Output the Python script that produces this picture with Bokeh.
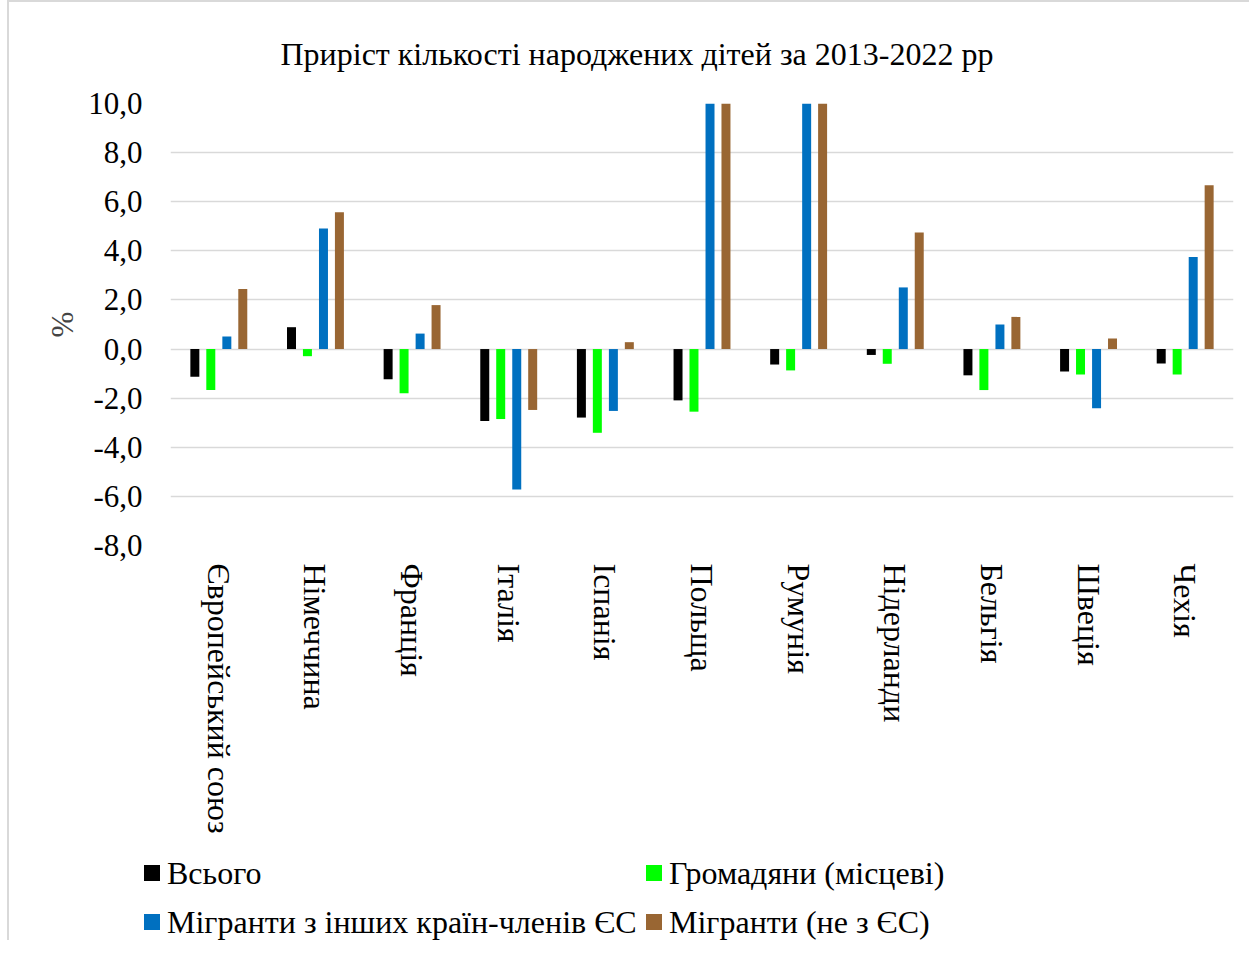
from bokeh.plotting import figure
from bokeh.models import FactorRange, FixedTicker, ColumnDataSource, Div
from bokeh.layouts import column
from bokeh.transform import dodge
from bokeh.embed import file_html
from bokeh.resources import INLINE

categories = ["Європейський союз", "Німеччина", "Франція", "Італія", "Іспанія",
              "Польща", "Румунія", "Нідерланди", "Бельгія", "Швеція", "Чехія"]
total = [-1.13, 0.89, -1.23, -2.93, -2.79, -2.09, -0.63, -0.24, -1.07, -0.91, -0.59]
citizens = [-1.67, -0.29, -1.80, -2.85, -3.41, -2.55, -0.87, -0.60, -1.67, -1.04, -1.04]
migrants_eu = [0.51, 4.91, 0.63, -5.72, -2.52, 10.0, 10.0, 2.51, 1.00, -2.41, 3.75]
migrants_non_eu = [2.45, 5.57, 1.79, -2.48, 0.28, 10.0, 10.0, 4.75, 1.31, 0.43, 6.67]
series_names = ["Всього", "Громадяни (місцеві)",
                "Мігранти з інших країн-членів ЄС", "Мігранти (не з ЄС)"]
y_ticks = [-8, -6, -4, -2, 0, 2, 4, 6, 8, 10]
y_tick_labels = ["-8,0", "-6,0", "-4,0", "-2,0", "0,0", "2,0", "4,0", "6,0", "8,0", "10,0"]
title_text = "Приріст кількості народжених дітей за 2013-2022 рр"

colors = ["#000000", "#00ff00", "#0070c0", "#996633"]
offsets = [-0.248, -0.083, 0.083, 0.248]
FONT = "Liberation Serif"
FS = "32px"
FS_TICK = "31px"

src = ColumnDataSource(dict(cat=categories, s0=total, s1=citizens, s2=migrants_eu, s3=migrants_non_eu))

p = figure(x_range=FactorRange(*categories, range_padding=0), y_range=(-8, 10),
           width=1240, height=853, output_backend="svg", toolbar_location=None,
           min_border_left=161, min_border_right=16, min_border_top=92, min_border_bottom=310)

for i, col in enumerate(["s0", "s1", "s2", "s3"]):
    p.vbar(x=dodge("cat", offsets[i], range=p.x_range), top=col, bottom=0, width=0.093,
           source=src, fill_color=colors[i], line_color=None)

p.title.text = title_text
p.title.align = "left"
p.title.offset = 110
p.title.text_font = FONT
p.title.text_font_size = FS
p.title.text_font_style = "normal"
p.title.text_color = "#000000"
p.title.standoff = 63

p.outline_line_color = None
p.xgrid.grid_line_color = None
p.ygrid.grid_line_color = "#d9d9d9"
p.ygrid.grid_line_width = 1.5

p.yaxis.ticker = FixedTicker(ticks=y_ticks)
p.yaxis.major_label_overrides = {t: l for t, l in zip(y_ticks, y_tick_labels)}
p.yaxis.axis_line_color = None
p.yaxis.major_tick_line_color = None
p.yaxis.minor_tick_line_color = None
p.yaxis.major_label_text_font = FONT
p.yaxis.major_label_text_font_size = FS_TICK
p.yaxis.major_label_text_color = "#000000"
p.yaxis.major_label_standoff = 22
p.yaxis.axis_label = "%"
p.yaxis.axis_label_text_font = FONT
p.yaxis.axis_label_text_font_size = FS_TICK
p.yaxis.axis_label_text_font_style = "normal"
p.yaxis.axis_label_standoff = 5

p.xaxis.axis_line_color = None
p.xaxis.major_tick_line_color = None
p.xaxis.minor_tick_line_color = None
p.xaxis.major_label_orientation = -1.5707963
p.xaxis.major_label_text_font = FONT
p.xaxis.major_label_text_font_size = FS
p.xaxis.major_label_text_color = "#000000"
p.xaxis.major_label_standoff = 12

# Legend: 2 x 2 grid of colour squares and series names
col_left = [135, 637]
row_top = [0, 49]
parts = []
for i, (name, c) in enumerate(zip(series_names, colors)):
    left = col_left[i % 2]
    top = row_top[i // 2]
    parts.append(
        f'<div style="position:absolute;left:{left}px;top:{top}px;display:flex;'
        f'align-items:center;white-space:nowrap;height:36px;">'
        f'<span style="display:inline-block;width:16px;height:16px;background:{c};'
        f'margin-right:7px;"></span><span>{name}</span></div>')
legend_html = (f'<div style="position:relative;width:1240px;height:85px;overflow:visible;'
               f'font-family:\'{FONT}\';font-size:{FS};color:#000;line-height:36px;">'
               + "".join(parts) + '</div>')
legend_div = Div(text=legend_html, width=1240, height=85, margin=0,
                 styles={"overflow": "visible"})

inner = column(p, legend_div, spacing=0)
inner.styles = {"border-left": "2px solid #d9d9d9", "border-top": "2px solid #d9d9d9",
                "overflow": "visible"}
inner.margin = (0, 0, 0, 7)

open("out.html", "w").write(file_html(inner, INLINE))
